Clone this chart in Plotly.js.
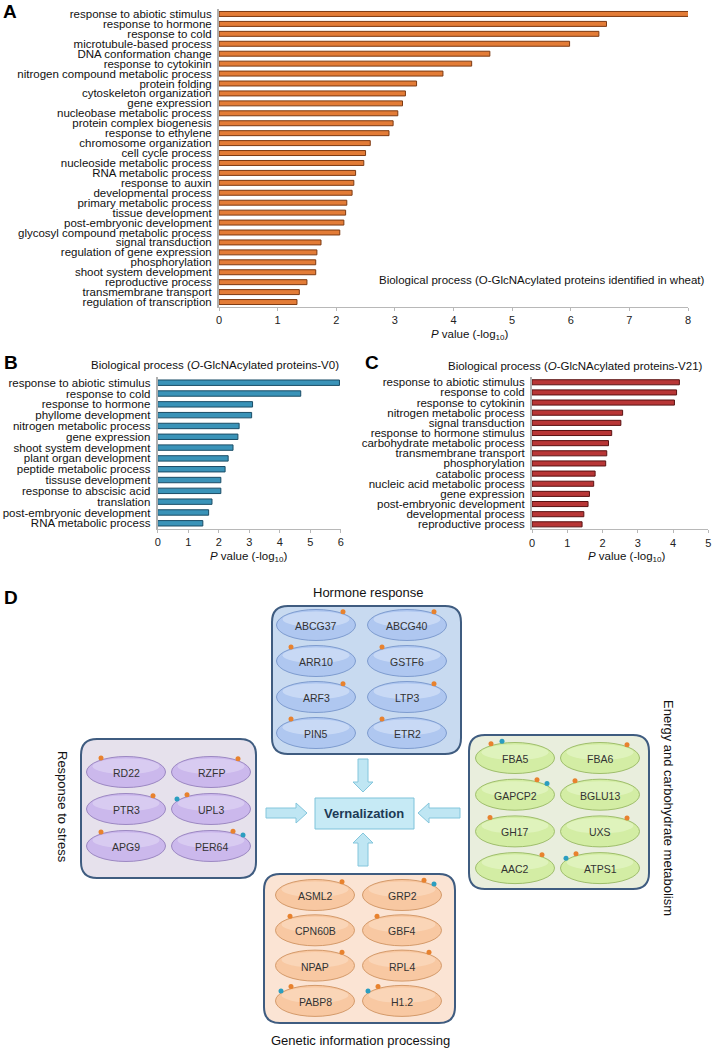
<!DOCTYPE html>
<html><head><meta charset="utf-8">
<script src="https://cdn.plot.ly/plotly-3.0.1.min.js"></script>
<style>html,body{margin:0;padding:0;background:#fff}#chart{width:714px;height:1050px}</style>
</head><body><div id="chart"></div>
<script>
// ---------- DATA ----------
const catsA = ['response to abiotic stimulus','response to hormone','response to cold','microtubule-based process','DNA conformation change','response to cytokinin','nitrogen compound metabolic process','protein folding','cytoskeleton organization','gene expression','nucleobase metabolic process','protein complex biogenesis','response to ethylene','chromosome organization','cell cycle process','nucleoside metabolic process','RNA metabolic process','response to auxin','developmental process','primary metabolic process','tissue development','post-embryonic development','glycosyl compound metabolic process','signal transduction','regulation of gene expression','phosphorylation','shoot system development','reproductive process','transmembrane transport','regulation of transcription'];
const valsA = [8.03,6.61,6.48,5.98,4.62,4.31,3.82,3.37,3.18,3.13,3.05,2.97,2.90,2.58,2.50,2.47,2.33,2.30,2.27,2.18,2.16,2.13,2.06,1.74,1.67,1.65,1.65,1.50,1.37,1.33];

const catsB = ['response to abiotic stimulus','response to cold','response to hormone','phyllome development','nitrogen metabolic process','gene expression','shoot system development','plant organ development','peptide metabolic process','tissuse development','response to abscisic acid','translation','post-embryonic development','RNA metabolic process'];
const valsB = [5.96,4.69,3.11,3.08,2.67,2.63,2.47,2.31,2.21,2.07,2.07,1.78,1.67,1.48];

const catsC = ['response to abiotic stimulus','response to cold','response to cytokinin','nitrogen metabolic process','signal transduction','response to hormone stimulus','carbohydrate metabolic process','transmembrane transport','phosphorylation','catabolic process','nucleic acid metabolic process','gene expression','post-embryonic development','developmental process','reproductive process'];
const valsC = [4.18,4.10,4.04,2.57,2.52,2.26,2.17,2.12,2.09,1.79,1.75,1.63,1.59,1.47,1.42];

const titleA = 'Biological process (O-GlcNAcylated proteins identified in wheat)';
const titleB = 'Biological process (<i>O</i>-GlcNAcylated proteins-V0)';
const titleC = 'Biological process (<i>O</i>-GlcNAcylated proteins-V21)';
const axisTitle = '<i>P</i> value (-log<sub>10</sub>)';

const hormoneGenes = ['ABCG37','ABCG40','ARR10','GSTF6','ARF3','LTP3','PIN5','ETR2'];
const hormoneSites = ['R','R','L','L','R','R','L','L'];
const stressGenes = ['RD22','RZFP','PTR3','UPL3','APG9','PER64'];
const stressSites = ['L','R','R','L+','L','R+'];
const energyGenes = ['FBA5','FBA6','GAPCP2','BGLU13','GH17','UXS','AAC2','ATPS1'];
const energySites = ['Lb','R','R+','L','L','R','R','L+'];
const geneticGenes = ['ASML2','GRP2','CPN60B','GBF4','NPAP','RPL4','PABP8','H1.2'];
const geneticSites = ['R','R+','L','L','R','R','L+','L+'];
const groupNames = ['Hormone response','Response to stress','Energy and carbohydrate metabolism','Genetic information processing'];
const centerLabel = 'Vernalization';

// ---------- HELPERS ----------
const W = 714, H = 1050;
const px = x => x / W;
const py = y => 1 - y / H;
const FONT = 'Arial, "Liberation Sans", sans-serif';

function barTrace(cats, vals, color, lineColor, xa, ya) {
  return {type:'bar', orientation:'h', x:vals, y:cats, xaxis:xa, yaxis:ya,
    marker:{color:color, line:{color:lineColor, width:1}}, cliponaxis:false,
    hoverinfo:'skip', showlegend:false};
}
function xAx(d0, d1, rng, anchor) {
  return {domain:[px(d0), px(d1)], range:rng, dtick:1, anchor:anchor, showgrid:false, zeroline:false,
    showline:true, linecolor:'#b8b8b8', linewidth:1, ticks:'outside', ticklen:3, tickcolor:'#b8b8b8',
    tickfont:{size:11, color:'#222', family:FONT}, fixedrange:true};
}
function yAx(top, bot, cats, anchor) {
  return {domain:[py(bot), py(top)], type:'category', autorange:'reversed', anchor:anchor,
    tickmode:'array', tickvals:cats, ticktext:cats, showgrid:false, zeroline:false,
    showline:true, linecolor:'#b0b0b0', linewidth:2, ticks:'', ticklabelstandoff:3,
    tickfont:{size:11.5, color:'#111', family:FONT}, fixedrange:true};
}

const traces = [
  barTrace(catsA, valsA, '#E37C37', '#7d3a12', 'x', 'y'),
  barTrace(catsB, valsB, '#3A93B8', '#1b4d66', 'x2', 'y2'),
  barTrace(catsC, valsC, '#B83636', '#5a1212', 'x3', 'y3')
];

const layout = {
  width:W, height:H, margin:{l:0,r:0,t:0,b:0}, paper_bgcolor:'#fff', plot_bgcolor:'rgba(0,0,0,0)',
  font:{family:FONT, color:'#111'}, bargap:0.5,
  xaxis: xAx(219, 688, [0,8], 'y'),
  yaxis: yAx(9, 307, catsA, 'x'),
  xaxis2: xAx(157.7, 340.7, [0,6], 'y2'),
  yaxis2: yAx(377.3, 528.7, catsB, 'x2'),
  xaxis3: xAx(532, 708.3, [0,5], 'y3'),
  yaxis3: yAx(377.2, 529.4, catsC, 'x3'),
  xaxis4: {domain:[0,1], range:[0,W], visible:false, fixedrange:true, anchor:'y4'},
  yaxis4: {domain:[0, py(560)], range:[H,560], visible:false, fixedrange:true, anchor:'x4'},
  shapes: [], annotations: []
};

const ann = layout.annotations, shp = layout.shapes;
function txt(x, y, text, size, opts) {
  ann.push(Object.assign({xref:'paper', yref:'paper', x:px(x), y:py(y), text:text, showarrow:false,
    xanchor:'center', yanchor:'middle', font:{size:size, color:'#111', family:FONT}}, opts||{}));
}
// panel letters
[['A',10,11],['B',11,363],['C',372,363],['D',11,597]].forEach(l => txt(l[1], l[2], '<b>'+l[0]+'</b>', 19, {font:{size:19,color:'#000',family:'"Liberation Sans Narrow", Arial, sans-serif'}}));
// chart titles
txt(542, 280, titleA, 11.5);
txt(215, 365, titleB, 11.5);
txt(575, 366, titleC, 11.5);
txt(470, 335, axisTitle, 11.5);
txt(249, 557, axisTitle, 11.5);
txt(627, 557, axisTitle, 11.5);

// ---------- PANEL D ----------
function dtxt(x, y, text, size, color, extra) {
  ann.push(Object.assign({xref:'x4', yref:'y4', x:x, y:y, text:text, showarrow:false, xanchor:'center', yanchor:'middle',
    font:{size:size, color:color, family:FONT}}, extra||{}));
}
function rrect(x0, x1, y0, y1, r, fill, line, lw) {
  const p = `M${x0+r},${y0} L${x1-r},${y0} Q${x1},${y0} ${x1},${y0+r} L${x1},${y1-r} Q${x1},${y1} ${x1-r},${y1} L${x0+r},${y1} Q${x0},${y1} ${x0},${y1-r} L${x0},${y0+r} Q${x0},${y0} ${x0+r},${y0} Z`;
  shp.push({type:'path', xref:'x4', yref:'y4', path:p, fillcolor:fill, line:{color:line, width:lw}, layer:'below'});
}
function poly(pts, fill, line) {
  shp.push({type:'path', xref:'x4', yref:'y4', path:'M' + pts.map(p => p.join(',')).join(' L') + ' Z',
    fillcolor:fill, line:{color:line, width:1}, layer:'below'});
}
const dotX = [], dotY = [], dotC = [];
function addSites(code, cx, cy, w, h) {
  const a = w/2, b = h/2;
  const pts = {
    'R': [[27,'o']], 'L': [[-25,'o']],
    'R+': [[22,'o'],[32,'b']], 'L+': [[-24,'o'],[-34,'b']], 'Lb': [[-24,'o'],[-13,'b']]
  }[code];
  pts.forEach(p => {
    const dx = p[0];
    const dy = -b*Math.sqrt(Math.max(0, 1 - (dx/a)*(dx/a))) - 2;
    dotX.push(cx + dx); dotY.push(cy + dy); dotC.push(p[1] === 'o' ? '#E8822E' : '#2B9EC0');
  });
}
function group(genes, sites, box, cols, row0, rowStep, style) {
  rrect(box[0], box[1], box[2], box[3], 16, style.box, '#3F5C80', 2);
  const w = 79, h = 31;
  genes.forEach((g, i) => {
    const cx = cols[i % 2], cy = row0 + Math.floor(i/2) * rowStep;
    shp.push({type:'circle', xref:'x4', yref:'y4', x0:cx-w/2, x1:cx+w/2, y0:cy-h/2, y1:cy+h/2,
      fillcolor:style.ell, line:{color:style.edge, width:1}, layer:'below'});
    shp.push({type:'circle', xref:'x4', yref:'y4', x0:cx-w/2+6, x1:cx+w/2-6, y0:cy-h/2+2, y1:cy+2,
      fillcolor:style.hi, line:{width:0}, opacity:0.55, layer:'below'});
    dtxt(cx, cy + 1, g, 10.5, '#333');
    addSites(sites[i], cx, cy, w, h);
  });
}
group(hormoneGenes, hormoneSites, [272,461,606,754], [316,407], 625, 36, {box:'#C8DAF0', ell:'#AFC7F0', edge:'#7E9CCF', hi:'#DDE8FA'});
group(stressGenes, stressSites, [81,256,739,878], [126,211], 772, 37, {box:'#E6E1EC', ell:'#CBB8EC', edge:'#9C88C2', hi:'#E4DAF6'});
group(energyGenes, energySites, [469,649,735,889], [515,600], 758, 36.7, {box:'#E9EEDD', ell:'#D3EDA4', edge:'#9FBE6C', hi:'#E9F7CF'});
group(geneticGenes, geneticSites, [264,455,874,1023], [315,402], 895, 35.3, {box:'#FBE4D4', ell:'#F8C8A2', edge:'#D49A6A', hi:'#FCE0C8'});

dtxt(368, 592, groupNames[0], 13, '#111');
dtxt(63, 807, groupNames[1], 13, '#111', {textangle:90});
dtxt(669, 808, groupNames[2], 13, '#111', {textangle:90});
dtxt(360, 1040, groupNames[3], 13, '#111');

// arrows
const AF = '#BFE6F3', AL = '#84C6DC';
poly([[358,759],[368,759],[368,782],[373,782],[363,792],[353,782],[358,782]], AF, AL);
poly([[358,866],[368,866],[368,843],[373,843],[363,833],[353,843],[358,843]], AF, AL);
poly([[266,808],[296,808],[296,803],[307,813],[296,823],[296,818],[266,818]], AF, AL);
poly([[460,808],[429,808],[429,803],[418,813],[429,823],[429,818],[460,818]], AF, AL);
shp.push({type:'rect', xref:'x4', yref:'y4', x0:315, x1:414, y0:798, y1:829, fillcolor:'#C6EAF5', line:{color:'#7FC3DA', width:1}, layer:'below'});
dtxt(364, 813.5, '<b>' + centerLabel + '</b>', 13, '#1D3A55');

traces.push({type:'scatter', mode:'markers', x:dotX, y:dotY, xaxis:'x4', yaxis:'y4',
  marker:{size:5, color:dotC, line:{width:0}}, hoverinfo:'skip', showlegend:false});

Plotly.newPlot('chart', traces, layout, {staticPlot:true, displayModeBar:false});
</script></body></html>
